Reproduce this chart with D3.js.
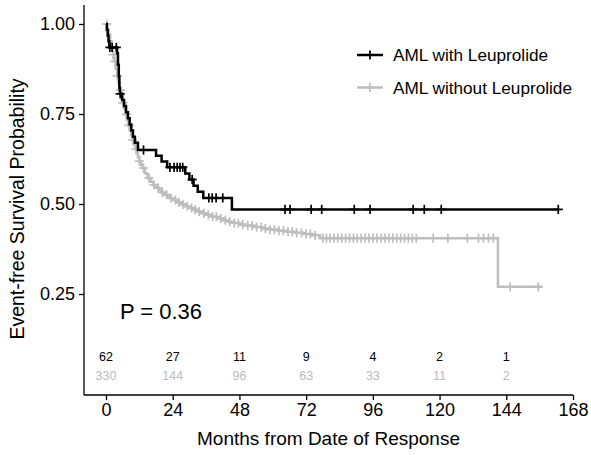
<!DOCTYPE html>
<html>
<head>
<meta charset="utf-8">
<script src="https://cdn.jsdelivr.net/npm/d3@7"></script>
<style>
  html, body { margin: 0; padding: 0; background: #fff; }
  svg { display: block; font-family: "Liberation Sans", Arial, Helvetica, sans-serif; }
</style>
</head>
<body>
<svg id="chart" width="591" height="455"></svg>
<script>
// ---------------- data ----------------
const groupNames = ["AML with Leuprolide", "AML without Leuprolide"];
const groupColors = ["#000000", "#BEBEBE"];

// Kaplan-Meier steps, AML with Leuprolide
const withTime = [0, 0.3, 0.6, 0.9, 1.2, 4.0, 4.3, 4.6, 4.8, 5.0, 5.8, 6.5, 7.2, 7.9, 8.5, 9.1, 9.7, 10.4, 11.5, 18.0, 20.0, 22.0, 28.5, 30.0, 31.5, 33.0, 35.0, 45.3];
const withSurv = [1.000, 0.984, 0.968, 0.952, 0.935, 0.919, 0.887, 0.855, 0.822, 0.806, 0.789, 0.772, 0.755, 0.738, 0.721, 0.704, 0.687, 0.670, 0.650, 0.634, 0.618, 0.602, 0.585, 0.568, 0.551, 0.534, 0.517, 0.485];
const withEnd = 163;
const withCensor = [1.4, 2.2, 3.7, 5.1, 13.5, 23.0, 24.5, 25.6, 26.6, 27.6, 31.0, 37.0, 38.2, 39.6, 42.0, 64.4, 66.2, 73.8, 77.6, 89.3, 95.0, 110.5, 114.5, 120.6, 162.7];

// Kaplan-Meier steps, AML without Leuprolide
const withoutTime = [0, 0.5, 1, 1.5, 2, 2.5, 3, 3.5, 4, 4.5, 5, 5.5, 6, 6.5, 7, 7.5, 8, 8.5, 9, 9.5, 10, 10.5, 11, 11.5, 12, 12.5, 13, 14, 15, 16, 17, 18, 19, 20, 21, 22, 23, 24, 25.5, 27, 28.5, 30, 31.5, 33, 34.5, 36, 38, 40, 42, 44, 46, 48, 50, 53, 56, 59, 62, 65, 68, 71, 74, 77, 141];
const withoutSurv = [1.000, 0.985, 0.970, 0.952, 0.934, 0.915, 0.896, 0.876, 0.856, 0.836, 0.816, 0.798, 0.781, 0.765, 0.749, 0.734, 0.719, 0.705, 0.691, 0.678, 0.665, 0.653, 0.641, 0.630, 0.619, 0.609, 0.600, 0.585, 0.572, 0.562, 0.553, 0.545, 0.538, 0.532, 0.526, 0.521, 0.516, 0.511, 0.505, 0.499, 0.494, 0.489, 0.484, 0.479, 0.474, 0.470, 0.465, 0.460, 0.455, 0.451, 0.447, 0.443, 0.440, 0.436, 0.432, 0.429, 0.426, 0.423, 0.420, 0.417, 0.413, 0.405, 0.270];
const withoutEnd = 157;
const withoutCensor = [0.3, 2.5, 3.2, 4.0, 5.2, 6.1, 7.4, 8.3, 9.6, 10.8, 12.0, 13.5, 15.5, 17.2, 18.8, 20.3, 21.8, 23.4, 25.0, 26.2, 27.8, 29.3, 30.8, 32.1, 33.5, 35.2, 36.8, 38.4, 39.7, 41.3, 42.9, 44.5, 46.2, 47.6, 49.2, 51.0, 52.5, 54.2, 55.8, 57.3, 59.0, 60.6, 62.2, 63.8, 65.5, 67.0, 68.6, 70.3, 72.0, 73.5, 75.2, 78.0, 79.3, 80.6, 82.0, 83.4, 84.8, 86.2, 87.6, 89.0, 90.4, 91.8, 93.2, 94.6, 96.0, 97.5, 99.0, 100.4, 101.8, 103.2, 104.6, 106.0, 107.4, 108.8, 110.2, 111.6, 117.7, 123.0, 130.0, 134.0, 135.8, 137.6, 139.3, 145.4, 155.5];

// number at risk
const riskTimes = [0, 24, 48, 72, 96, 120, 144];
const riskWith = [62, 27, 11, 9, 4, 2, 1];
const riskWithout = [330, 144, 96, 63, 33, 11, 2];

// axes
const xTicks = [0, 24, 48, 72, 96, 120, 144, 168];
const yTicks = [0.25, 0.50, 0.75, 1.00];
const xTitle = "Months from Date of Response";
const yTitle = "Event-free Survival Probability";
const pLabel = "P = 0.36";

// ---------------- drawing ----------------
const svg = d3.select("#chart");
const x = d3.scaleLinear().domain([0, 168]).range([106, 573]);
const y = d3.scaleLinear().domain([0, 1]).range([384, 24]);
const xAxisY = 395, yAxisX = 84, axisTop = 5;

function stepData(times, surv, end) {
  const pts = times.map((t, i) => [t, surv[i]]);
  pts.push([end, surv[surv.length - 1]]);
  return pts;
}
function survAt(times, surv, t) {
  const i = d3.bisectRight(times, t) - 1;
  return surv[Math.max(0, i)];
}
const line = d3.line().x(d => x(d[0])).y(d => y(d[1])).curve(d3.curveStepAfter);

const groups = [
  { times: withoutTime, surv: withoutSurv, end: withoutEnd, censor: withoutCensor, color: groupColors[1] },
  { times: withTime, surv: withSurv, end: withEnd, censor: withCensor, color: groupColors[0] }
];

const cs = 4.6; // half size of censor plus
groups.forEach(g => {
  svg.append("path")
    .datum(stepData(g.times, g.surv, g.end))
    .attr("d", line)
    .attr("fill", "none")
    .attr("stroke", g.color)
    .attr("stroke-width", 2.5)
    .attr("stroke-linejoin", "miter");
  const cg = svg.append("g").attr("stroke", g.color).attr("stroke-width", 1.7);
  g.censor.forEach(t => {
    const cx = x(t), cy = y(survAt(g.times, g.surv, t));
    cg.append("line").attr("x1", cx - cs).attr("x2", cx + cs).attr("y1", cy).attr("y2", cy);
    cg.append("line").attr("x1", cx).attr("x2", cx).attr("y1", cy - cs).attr("y2", cy + cs);
  });
});

// axes
const tickFont = 18;
const xAxis = d3.axisBottom(x).tickValues(xTicks).tickSize(5).tickPadding(3).tickFormat(d3.format("d"));
const gx = svg.append("g").attr("transform", `translate(0,${xAxisY})`).call(xAxis);
gx.select(".domain").remove();
gx.append("line").attr("x1", yAxisX).attr("x2", x(168)).attr("y1", 0).attr("y2", 0)
  .attr("stroke", "#000").attr("stroke-width", 1.3);
gx.selectAll(".tick line").attr("stroke", "#000").attr("stroke-width", 1.3);
gx.selectAll(".tick text").attr("font-size", tickFont).attr("fill", "#000")
  .attr("font-family", "Liberation Sans, Arial, sans-serif");

const yAxis = d3.axisLeft(y).tickValues(yTicks).tickSize(5).tickPadding(4).tickFormat(d3.format(".2f"));
const gy = svg.append("g").attr("transform", `translate(${yAxisX},0)`).call(yAxis);
gy.select(".domain").remove();
gy.append("line").attr("x1", 0).attr("x2", 0).attr("y1", axisTop).attr("y2", xAxisY)
  .attr("stroke", "#000").attr("stroke-width", 1.3);
gy.selectAll(".tick line").attr("stroke", "#000").attr("stroke-width", 1.3);
gy.selectAll(".tick text").attr("font-size", tickFont).attr("fill", "#000")
  .attr("font-family", "Liberation Sans, Arial, sans-serif");

// axis titles
svg.append("text").attr("x", (yAxisX + x(168)) / 2).attr("y", 445)
  .attr("text-anchor", "middle").attr("font-size", 19).attr("fill", "#000").text(xTitle);
svg.append("text").attr("transform", `translate(24,${(axisTop + xAxisY) / 2 + 9}) rotate(-90)`)
  .attr("text-anchor", "middle").attr("font-size", 19.5).attr("fill", "#000").text(yTitle);

// p value
svg.append("text").attr("x", x(5)).attr("y", y(0.18)).attr("font-size", 22).attr("fill", "#000").text(pLabel);

// numbers at risk
[[riskWith, groupColors[0], 0.065], [riskWithout, "#BBBBBB", 0.01]].forEach(([vals, col, lvl]) => {
  svg.append("g").selectAll("text").data(vals).join("text")
    .attr("x", (d, i) => x(riskTimes[i]))
    .attr("y", y(lvl))
    .attr("text-anchor", "middle")
    .attr("font-size", 12.5)
    .attr("fill", col)
    .text(d => d);
});

// legend
const lg = svg.append("g");
groupNames.forEach((name, i) => {
  const ly = 55 + i * 32.5;
  lg.append("line").attr("x1", 357).attr("x2", 383).attr("y1", ly).attr("y2", ly)
    .attr("stroke", groupColors[i]).attr("stroke-width", 2.5);
  lg.append("line").attr("x1", 370 - cs).attr("x2", 370 + cs).attr("y1", ly).attr("y2", ly)
    .attr("stroke", groupColors[i]).attr("stroke-width", 1.7);
  lg.append("line").attr("x1", 370).attr("x2", 370).attr("y1", ly - cs).attr("y2", ly + cs)
    .attr("stroke", groupColors[i]).attr("stroke-width", 1.7);
  lg.append("text").attr("x", 393).attr("y", ly).attr("dy", "0.35em")
    .attr("font-size", 17.2).attr("fill", "#000").text(name);
});
</script>
</body>
</html>
